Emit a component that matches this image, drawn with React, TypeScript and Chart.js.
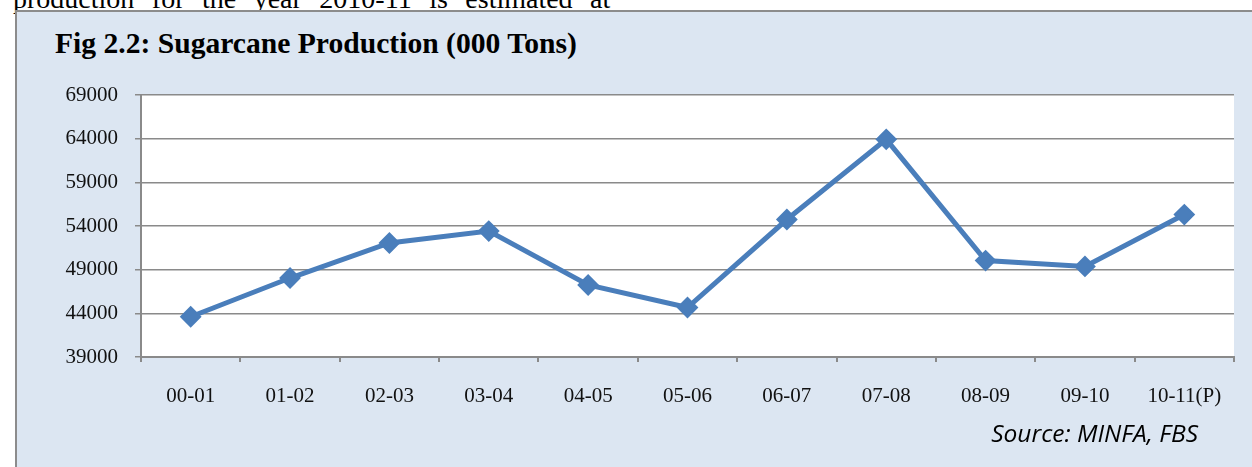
import React, { useEffect, useRef } from "react";
import { Chart, registerables } from "chart.js";

Chart.register(...registerables);

const categories = ["00-01", "01-02", "02-03", "03-04", "04-05", "05-06", "06-07", "07-08", "08-09", "09-10", "10-11(P)"];
const production = [43606, 48042, 52056, 53419, 47244, 44666, 54742, 63920, 50045, 49373, 55309];
const yMin = 39000;
const yMax = 69000;
const yStep = 5000;

const GRID = "#8a8a8a";
const LINE = "#4a7ebb";

export default function App() {
  const ref = useRef<HTMLCanvasElement | null>(null);

  useEffect(() => {
    if (!ref.current) return;
    const chart = new Chart(ref.current, {
      type: "line",
      data: {
        labels: categories,
        datasets: [
          {
            data: production,
            borderColor: LINE,
            backgroundColor: LINE,
            borderWidth: 5,
            pointStyle: "rectRot",
            pointRadius: 9.5,
            pointBorderWidth: 2,
            pointBackgroundColor: LINE,
            pointBorderColor: LINE,
            tension: 0,
          },
        ],
      },
      options: {
        responsive: false,
        devicePixelRatio: 1,
        animation: false,
        layout: { padding: { top: 35, right: 18, bottom: 0, left: 0 } },
        plugins: { legend: { display: false }, tooltip: { enabled: false } },
        scales: {
          x: {
            offset: true,
            grid: {
              display: true,
              offset: true,
              drawOnChartArea: false,
              drawTicks: true,
              tickLength: 5,
              color: GRID,
              lineWidth: 2,
            },
            border: { display: true, color: GRID, width: 2 },
            ticks: {
              color: "#111",
              padding: 22,
              maxRotation: 0,
              autoSkip: false,
              font: { family: "'Liberation Serif', 'Times New Roman', serif", size: 21 },
            },
            afterFit: (scale: any) => {
              scale.height = 103;
            },
          },
          y: {
            min: yMin,
            max: yMax,
            ticks: {
              stepSize: yStep,
              color: "#111",
              padding: 17,
              font: { family: "'Liberation Serif', 'Times New Roman', serif", size: 21 },
              callback: (v: any) => String(v),
            },
            grid: {
              color: GRID,
              lineWidth: 1.5,
              drawTicks: true,
              tickLength: 6,
            },
            border: { display: true, color: GRID, width: 2 },
            afterFit: (scale: any) => {
              scale.width = 125;
            },
          },
        },
      },
      plugins: [
        {
          id: "whitePlot",
          beforeDraw: (c: any) => {
            const a = c.chartArea;
            const ctx = c.ctx;
            ctx.save();
            ctx.fillStyle = "#ffffff";
            ctx.fillRect(a.left, a.top, a.right - a.left, a.bottom - a.top);
            ctx.restore();
          },
        },
      ],
    });
    return () => chart.destroy();
  }, []);

  return (
    <div style={{ position: "absolute", left: 0, top: 0, width: 1252, height: 467, overflow: "hidden", background: "#fff" }}>
      <div
        style={{
          position: "absolute",
          left: 13,
          top: -15.4,
          fontFamily: "'Liberation Serif', 'Times New Roman', serif",
          fontSize: 28,
          lineHeight: "28px",
          wordSpacing: 10.5,
          whiteSpace: "nowrap",
          color: "#000",
        }}
      >
        production for the year 2010-11 is estimated at
      </div>
      <div
        style={{
          position: "absolute",
          left: 15,
          top: 10,
          width: 1300,
          height: 500,
          background: "#dce6f2",
          borderLeft: "2px solid #8c8c8c",
          borderTop: "2px solid #8c8c8c",
        }}
      />
      <div
        style={{
          position: "absolute",
          left: 55,
          top: 28.5,
          fontFamily: "'Liberation Serif', 'Times New Roman', serif",
          fontWeight: "bold",
          fontSize: 29.6,
          lineHeight: "29.6px",
          whiteSpace: "nowrap",
          color: "#000",
        }}
      >
        Fig 2.2: Sugarcane Production (000 Tons)
      </div>
      <canvas
        ref={ref}
        width={1236}
        height={400}
        style={{ position: "absolute", left: 16, top: 60, width: 1236, height: 400 }}
      />
      <div
        style={{
          position: "absolute",
          right: 54,
          top: 418.5,
          fontFamily: "'Open Sans', sans-serif",
          fontStyle: "italic",
          fontSize: 24.5,
          lineHeight: "28px",
          whiteSpace: "nowrap",
          color: "#000",
        }}
      >
        Source: MINFA, FBS
      </div>
    </div>
  );
}
